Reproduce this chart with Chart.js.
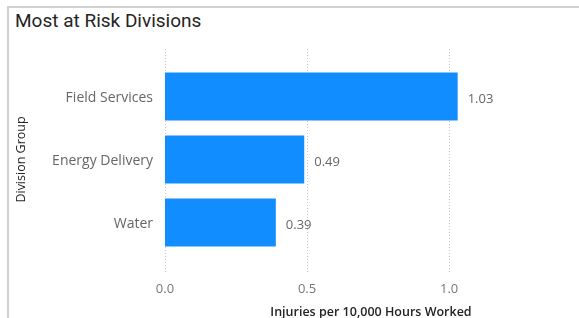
<!DOCTYPE html>
<html>
<head>
<meta charset="utf-8">
<script src="https://cdn.jsdelivr.net/npm/chart.js@4.4.0/dist/chart.umd.min.js"></script>
<style>
  html, body { margin: 0; padding: 0; background: #fff; }
  #wrap { position: relative; width: 579px; height: 318px; overflow: hidden; }
  #card { position: absolute; left: 7px; top: 6px; width: 600px; height: 330px;
          border-left: 2px solid #d0d0d0; border-top: 2px solid #d0d0d0; box-sizing: border-box; }
  #title { position: absolute; left: 15px; top: 9px; font: 19px Roboto, sans-serif; color: #252423; }
  #fanChart { position: absolute; left: 0; top: 0; }
</style>
</head>
<body>
<div id="wrap">
  <div id="card"></div>
  <div id="title">Most at Risk Divisions</div>
  <canvas id="fanChart" width="579" height="318"></canvas>
</div>
<script>
const divisions = ['Field Services', 'Energy Delivery', 'Water'];
const injuryRates = [1.03, 0.49, 0.39];
const xTicks = [0, 0.5, 1.0];

const labelFont = '"Segoe UI", "Open Sans", sans-serif';

// grade pontilhada (passa um pouco acima e abaixo da área do gráfico)
const dottedGrid = {
    id: 'dottedGrid',
    beforeDatasetsDraw(chart) {
        const ctx = chart.ctx;
        const x = chart.scales.x;
        ctx.save();
        ctx.strokeStyle = '#c8c8c8';
        ctx.lineWidth = 1;
        ctx.setLineDash([1, 2]);
        xTicks.forEach(v => {
            const px = Math.round(x.getPixelForValue(v)) + 0.5;
            ctx.beginPath();
            ctx.moveTo(px, chart.chartArea.top - 16);
            ctx.lineTo(px, chart.chartArea.bottom + 19);
            ctx.stroke();
        });
        ctx.restore();
    }
};

// rótulos de valor na ponta das barras
const valueLabels = {
    id: 'valueLabels',
    afterDatasetsDraw(chart) {
        const ctx = chart.ctx;
        const meta = chart.getDatasetMeta(0);
        ctx.save();
        ctx.fillStyle = '#666666';
        ctx.font = '13px ' + labelFont;
        ctx.textAlign = 'left';
        ctx.textBaseline = 'middle';
        meta.data.forEach((bar, i) => {
            ctx.fillText(injuryRates[i].toFixed(2), bar.x + 10, bar.y + 3);
        });
        ctx.restore();
    }
};

const ctx = document.getElementById('fanChart').getContext('2d');
new Chart(ctx, {
    type: 'bar',
    data: {
        labels: divisions,
        datasets: [{
            data: injuryRates,
            backgroundColor: '#118DFF',
            barPercentage: 0.762,
            categoryPercentage: 1
        }]
    },
    options: {
        indexAxis: 'y',
        responsive: false,
        animation: false,
        layout: { padding: { top: 65, right: 2, left: 0, bottom: 0 } },
        plugins: { legend: { display: false }, tooltip: { enabled: false } },
        scales: {
            x: {
                min: 0,
                max: 1.45,
                afterFit(scale) { scale.height = 64; },
                afterBuildTicks(scale) { scale.ticks = xTicks.map(v => ({ value: v })); },
                grid: { display: false, drawTicks: false },
                border: { display: false },
                ticks: {
                    padding: 27,
                    color: '#777777',
                    font: { family: labelFont, size: 13 },
                    callback: v => v.toFixed(1)
                },
                title: {
                    display: true,
                    text: 'Injuries per 10,000 Hours Worked',
                    color: '#252423',
                    font: { family: labelFont, size: 12.5, weight: '600' },
                    padding: { top: 0, bottom: -2 }
                }
            },
            y: {
                afterFit(scale) { scale.width = 165; },
                grid: { display: false, drawTicks: false },
                border: { display: false },
                ticks: {
                    padding: 12,
                    labelOffset: 2,
                    color: '#666666',
                    font: { family: labelFont, size: 14 }
                },
                title: {
                    display: true,
                    text: 'Division Group',
                    color: '#252423',
                    font: { family: labelFont, size: 12.5 },
                    padding: { top: 14, bottom: 0 }
                }
            }
        }
    },
    plugins: [dottedGrid, valueLabels]
});
</script>
</body>
</html>
